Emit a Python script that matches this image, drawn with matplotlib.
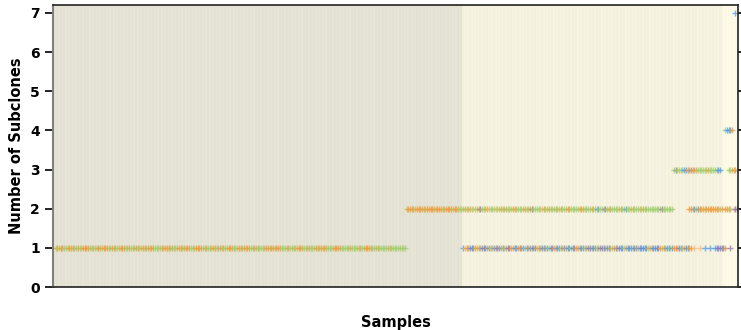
import numpy as np
import matplotlib
matplotlib.use("Agg")
import matplotlib.pyplot as plt

# sample groups (background blocks), sizes in samples
group_sizes = [239, 152, 9]
group_shades = [("#e3e1d1", "#e6e4d6"), ("#f3f0dc", "#f6f3e3"), ("#fdfae7", "#fcf8e2")]

# subclone calls: (number of subclones, first sample index, colour code per sample, '.' = none)
calls = [
    (1, 1,
     "gogoogggoo" "oggoggoooo" "gogggoogoo" "oggogoggoo" "oggogggoog"
     "googogoogg" "ggogooogog" "ggoogogoog" "ggooooggog" "ggooggogog"
     "gooogggoog" "ogooggogog" "gggoogoogo" "ooggggoggo" "ggooogggog"
     "ggoogogoog" "gggooooggg" "ggogggggog" "goooogggog" "gggggogggg" "ggggg"),
    (2, 206,
     "goooogoooo" "ogooooogoo" "oogoooogoo" "ogggoggogl" "ggopgggolg"
     "gglggoggog" "ggogoggggo" "ggopgggggl" "oggogggogg" "ogggoogggg"
     "ggoogggggo" "ggbgggpggo" "gggggoggbg" "ggogggggog" "gggggggggp" "gggggg"),
    (1, 239,
     "bloobpbogo" "obbpobogbo" "pbobgobpoo" "bbopobgbob" "obpgoobbob"
     "gbpoobbgob" "obbgpbooob" "bgobpobbgo" "bpbobbogob" "opbbgobbbo"
     "bbobbpbbgo" "obbbpogoob" "bgbooopbgo" "bboo"
     ".l..l..b..b..bbpppbo..p.."),
    (2, 371, "oogpgbooogoooooooogo.ooog.lpp"),
    (3, 362, "gpggggbbooboooggggggogggggbb"),
    (3, 394, "gggoo"),
    (4, 392, "gbbbo"),
    (7, 398, "b"),
]

palette = {"g": "#a3cf6e", "o": "#f39a3c", "b": "#4f9be8",
           "p": "#9b72b0", "l": "#fdb870"}

fig = plt.figure(figsize=(7.41, 3.30), dpi=100)
ax = fig.add_axes([0.0715, 0.1303, 0.9245, 0.8545])

# background stripes, one per sample
n_samples = sum(group_sizes)
bg = []
for size, (c1, c2) in zip(group_sizes, group_shades):
    bg += [c1 if i % 2 == 0 else c2 for i in range(size)]
ax.bar(np.arange(n_samples) + 0.5, 7.2, width=1.0, color=bg, linewidth=0, zorder=0)

for level, start, codes in calls:
    for i, c in enumerate(codes):
        if c == ".":
            continue
        ax.plot(start + i + 0.5, level, marker="+", color=palette[c],
                markersize=4, mew=1.0, alpha=0.75, zorder=2)

ax.set_xlim(0, n_samples)
ax.set_ylim(0, 7.2)
ax.set_xticks([])
ax.set_yticks(range(8))
ax.tick_params(axis="y", right=True, length=6, width=1.2, labelsize=10)
for lab in ax.get_yticklabels():
    lab.set_fontweight("bold")

ax.spines["left"].set_color("#808080")
ax.spines["left"].set_linewidth(1.5)
for s in ["top", "right", "bottom"]:
    ax.spines[s].set_color("#222222")
    ax.spines[s].set_linewidth(1.2)

ax.set_ylabel("Number of Subclones", fontsize=10.5, fontweight="bold", labelpad=4)
ax.set_xlabel("Samples", fontsize=10.5, fontweight="bold", labelpad=20)

fig.savefig("out.png", dpi=100)
